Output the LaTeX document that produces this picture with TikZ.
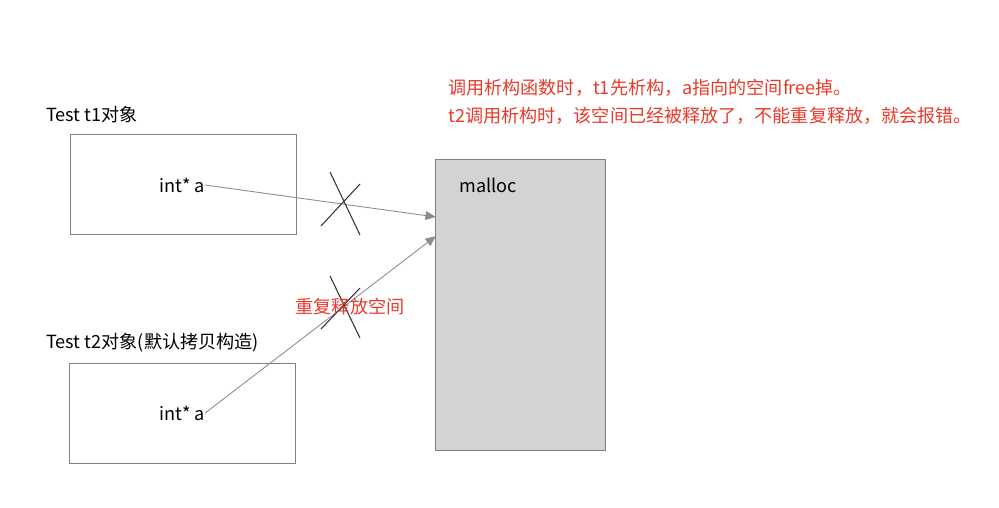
\documentclass[tikz,border=0pt]{standalone}
\usepackage{fontspec}
\setmainfont{Noto Sans CJK SC}
\usetikzlibrary{arrows.meta}
\definecolor{notered}{HTML}{E8392A}
\definecolor{boxgray}{HTML}{808080}
\definecolor{heapfill}{HTML}{D3D3D3}
\tikzset{
  objbox/.style={draw=boxgray, fill=white, minimum width=4.52cm, minimum height=2cm, inner sep=0pt},
  heapbox/.style={draw=boxgray, fill=heapfill, minimum width=3.4cm, minimum height=5.82cm, inner sep=0pt},
  ptrlabel/.style={inner sep=0pt, font=\fontsize{10.3pt}{12pt}\selectfont},
  plainlabel/.style={anchor=west, inner sep=0pt, font=\fontsize{10.3pt}{12pt}\selectfont},
  redlabel/.style={anchor=west, inner sep=0pt, text=notered, font=\fontsize{10.3pt}{12pt}\selectfont},
  ptrarrow/.style={draw=boxgray!90, line width=0.5pt, -{Triangle[length=6pt, width=5pt]}},
  crossline/.style={draw=black!80, line width=0.6pt}
}
\begin{document}
\begin{tikzpicture}[x=0.02cm, y=-0.02cm]
\useasboundingbox (0,0) rectangle (999,507);

% ==== Objects on the stack ====
\node[plainlabel] (t1title) at (46,115) {Test t1对象};
\node[objbox] (t1box) at (183,184) {};
\node[ptrlabel] (t1ptr) at (182,185) {int* a};

\node[plainlabel] (t2title) at (46,343) {Test t2对象(默认拷贝构造)};
\node[objbox] (t2box) at (182,413) {};
\node[ptrlabel] (t2ptr) at (182,413) {int* a};

% ==== Heap block ====
\node[heapbox] (heap) at (520,304.5) {};
\node[plainlabel] (heaplabel) at (459,185) {malloc};

% Pointer arrows
\coordinate (heapin1) at (436,217);
\coordinate (heapin2) at (436,236);
\draw[ptrarrow] (t1ptr.east) -- (heapin1);
\draw[ptrarrow] (t2ptr.east) -- (heapin2);

% Crosses
\draw[crossline] (330,172) -- (360,235);
\draw[crossline] (360,184) -- (321,226);
\draw[crossline] (330,276) -- (360,338);
\draw[crossline] (360,288) -- (321,329);

% Notes
\node[text=notered, inner sep=0pt, font=\fontsize{10.3pt}{12pt}\selectfont] (freetwice) at (350,307) {重复释放空间};
\node[redlabel] (note1) at (448,88) {调用析构函数时，t1先析构，a指向的空间free掉。};
\node[redlabel] (note2) at (448,116) {t2调用析构时，该空间已经被释放了，不能重复释放，就会报错。};

\end{tikzpicture}
\end{document}
